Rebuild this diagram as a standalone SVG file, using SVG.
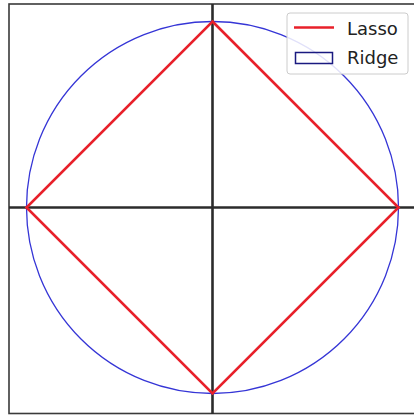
<svg xmlns="http://www.w3.org/2000/svg" width="414" height="416" viewBox="0 0 414 416">
<style>
.frame{fill:none;stroke:#3a3a3a;stroke-width:1.6}
.axis{stroke:#2b2b2b;stroke-width:2.6}
.lasso{fill:none;stroke:#e8202a;stroke-width:2.6;stroke-linejoin:miter}
.ridge{fill:none;stroke:#3535d6;stroke-width:1.3}
.leg{font-family:"DejaVu Sans",sans-serif;font-size:18px;fill:#222}
</style>
<rect x="0" y="0" width="414" height="416" fill="#ffffff"/>
<g id="frame"><rect class="frame" x="9" y="4" width="410" height="409.5"/></g>
<g id="connectors">
<line class="axis" x1="212.5" y1="4" x2="212.5" y2="414"/>
<line class="axis" x1="9" y1="207.5" x2="414" y2="207.5"/>
</g>
<g id="ridge"><circle class="ridge" cx="212.5" cy="207.5" r="186"/></g>
<g id="lasso"><polygon class="lasso" points="212.5,21.5 398.5,207.5 212.5,393.5 26.5,207.5"/></g>
<g id="legend">
<rect x="287" y="13" width="121" height="61" rx="3" fill="#ffffff" fill-opacity="0.85" stroke="#cccccc" stroke-width="1"/>
<line x1="294" y1="27.5" x2="334" y2="27.5" stroke="#e8202a" stroke-width="2.6"/>
<text class="leg" x="347" y="35">Lasso</text>
<rect x="295.5" y="52.5" width="37" height="11" fill="none" stroke="#1a1a80" stroke-width="1.5"/>
<text class="leg" x="347" y="64">Ridge</text>
</g>
</svg>
